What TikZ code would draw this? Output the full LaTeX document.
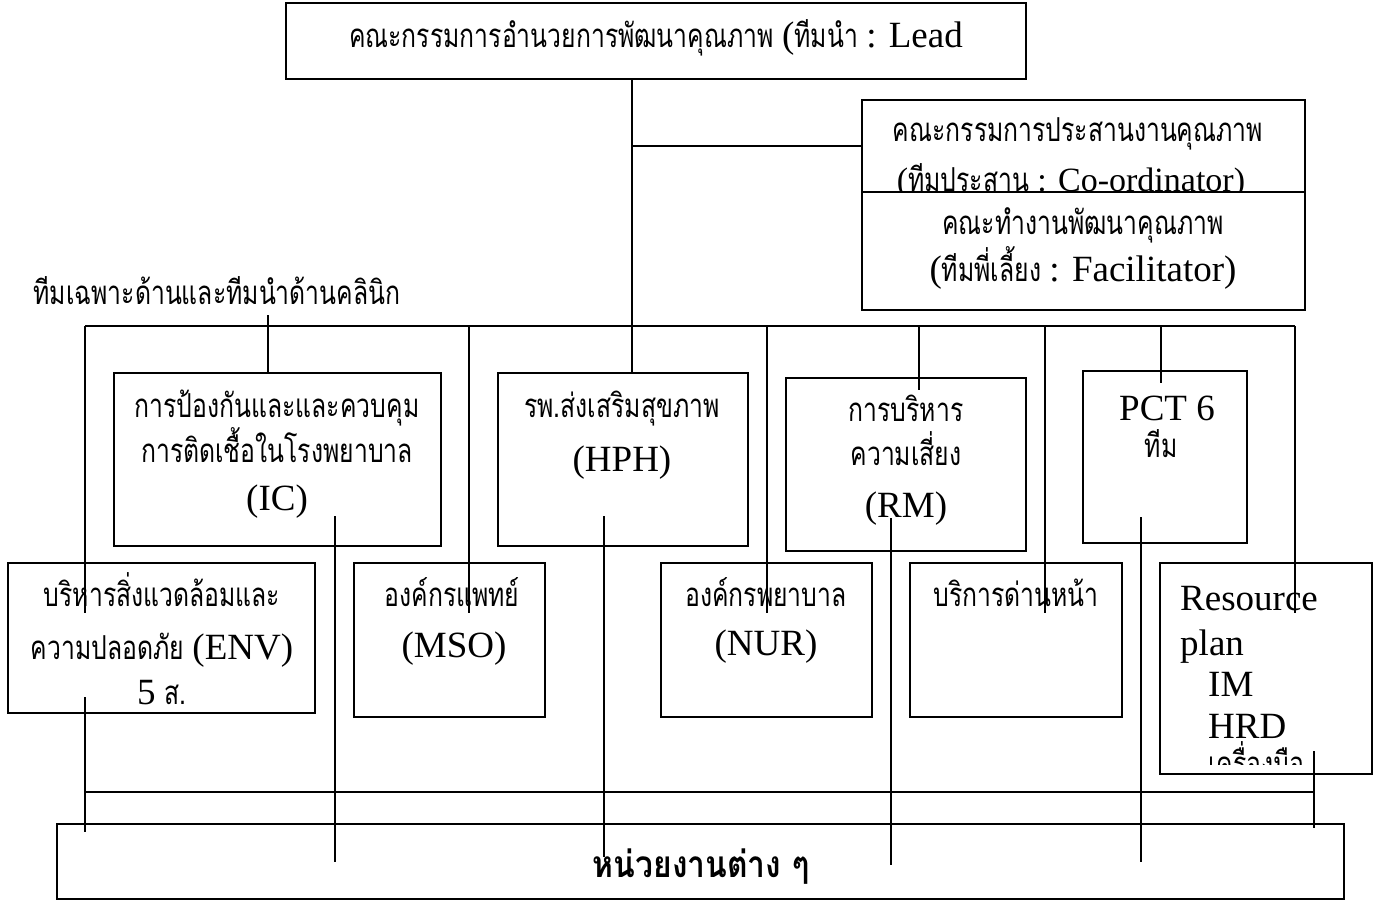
\documentclass[tikz,border=0pt]{standalone}
\usepackage{fontspec}
\setmainfont{Liberation Serif}
\newfontfamily\thf[Script=Thai,FakeStretch=0.75]{Loma}
\newfontfamily\thbf[Script=Thai,FakeStretch=0.86]{Loma}
\newcommand\thai[1]{{\thf\fontsize{33}{34}\selectfont #1}}
\newcommand\latn[1]{{\fontsize{37}{38}\selectfont #1}}
\newcommand\latns[1]{{\fontsize{34}{35}\selectfont #1}}
\usetikzlibrary{fit}
\begin{document}
\begin{tikzpicture}[x=1pt,y=-1pt,
  box/.style={draw, line width=1.8pt, fill=white, inner sep=0pt},
  ln/.style={line width=1.5pt},
  txt/.style={inner sep=0pt, anchor=base},
  txtw/.style={inner sep=0pt, anchor=base west},
]
\useasboundingbox (0,0) rectangle (1373,901);
% ---------- top box
\node[box, fit={(286,3) (1026,79)}] (top) {};
\node[txt] (toptxt) at (656,48) {\thai{คณะกรรมการอำนวยการพัฒนาคุณภาพ }\latn{(}\thai{ทีมนำ }\latn{: Lead}};
% ---------- coordinator / facilitator
\node[box, fit={(862,100) (1305,192)}] (coord) {};
\node[txt] (coordA) at (1078,142) {\thai{คณะกรรมการประสานงานคุณภาพ}};
\node[txt] (coordB) at (1071,192) {\latns{(}\thai{ทีมประสาน }\latns{: Co-ordinator)}};
\node[box, fit={(862,192) (1305,310)}] (facil) {};
\node[txt] (facilA) at (1083,235) {\thai{คณะทำงานพัฒนาคุณภาพ}};
\node[txt] (facilB) at (1083,282) {\latn{(}\thai{ทีมพี่เลี้ยง }\latn{: Facilitator)}};
% ---------- label
\node[txt] (label) at (217,305) {\thai{ทีมเฉพาะด้านและทีมนำด้านคลินิก}};
% ---------- middle row boxes
\node[box, fit={(114,373) (441,546)}] (ic) {};
\node[txt] at (277,417) {\thai{การป้องกันและและควบคุม}};
\node[txt] at (277,462) {\thai{การติดเชื้อในโรงพยาบาล}};
\node[txt] at (277,510) {\latn{(IC)}};
\node[box, fit={(498,373) (748,546)}] (hph) {};
\node[txt] at (622,417) {\thai{รพ.ส่งเสริมสุขภาพ}};
\node[txt] at (622,471) {\latn{(HPH)}};
\node[box, fit={(786,378) (1026,551)}] (rm) {};
\node[txt] at (906,421) {\thai{การบริหาร}};
\node[txt] at (906,465) {\thai{ความเสี่ยง}};
\node[txt] at (906,517) {\latn{(RM)}};
\node[box, fit={(1083,371) (1247,543)}] (pct) {};
\node[txt] at (1167,420) {\latn{PCT 6}};
\node[txt] at (1161,457) {\thai{ทีม}};
% ---------- lower row boxes
\node[box, fit={(8,563) (315,713)}] (env) {};
\node[txt] at (162,606) {\thai{บริหารสิ่งแวดล้อมและ}};
\node[txt] at (162,659) {\thai{ความปลอดภัย }\latn{(ENV)}};
\node[txt] at (162,704) {\latn{5 }\thai{ส.}};
\node[box, fit={(354,563) (545,717)}] (mso) {};
\node[txt] at (452,606) {\thai{องค์กรแพทย์}};
\node[txt] at (454,657) {\latn{(MSO)}};
\node[box, fit={(661,563) (872,717)}] (nur) {};
\node[txt] at (766,606) {\thai{องค์กรพยาบาล}};
\node[txt] at (766,655) {\latn{(NUR)}};
\node[box, fit={(910,563) (1122,717)}] (front) {};
\node[txt] at (1016,606) {\thai{บริการด่านหน้า}};
\node[box, fit={(1160,563) (1372,774)}] (res) {};
\begin{scope}
\clip (1162,565) rectangle (1370,764);
\node[txtw] at (1180,610) {\latn{Resource}};
\node[txtw] at (1180,655) {\latn{plan}};
\node[txtw] at (1208,696) {\latn{IM}};
\node[txtw] at (1208,738) {\latn{HRD}};
\node[txtw] at (1208,775) {\thai{เครื่องมือ}};
\end{scope}
% ---------- bottom box
\node[box, fit={(57,824) (1344,899)}] (bottom) {};
\node[txt] (bottxt) at (701,877) {\thbf\bfseries\fontsize{37}{38}\selectfont หน่วยงานต่าง ๆ};
% ---------- connectors
\coordinate (spine) at (632,0);
\draw[ln] (top.south -| spine) -- (hph.north -| spine);
\draw[ln] (coord.west -| spine) -- (coord.west);
\coordinate (busL) at (85,326);
\coordinate (busR) at (1295,326);
\draw[ln] (busL) -- (busR);
\coordinate (icTop) at (268,315);
\draw[ln] (icTop) -- (ic.north -| icTop);
\coordinate (envA) at (85,613);
\draw[ln] (busL) -- (envA);
\coordinate (msoA) at (469,326); \coordinate (msoB) at (469,613);
\draw[ln] (msoA) -- (msoB);
\coordinate (nurA) at (767,326); \coordinate (nurB) at (767,613);
\draw[ln] (nurA) -- (nurB);
\coordinate (rmA) at (919,326); \coordinate (rmB) at (919,390);
\draw[ln] (rmA) -- (rmB);
\coordinate (frA) at (1045,326); \coordinate (frB) at (1045,613);
\draw[ln] (frA) -- (frB);
\coordinate (pctA) at (1161,326); \coordinate (pctB) at (1161,383);
\draw[ln] (pctA) -- (pctB);
\coordinate (resB) at (1295,613);
\draw[ln] (busR) -- (resB);
% drops to bottom
\coordinate (envC) at (85,697); \coordinate (envD) at (85,832);
\draw[ln] (envC) -- (envD);
\coordinate (icC) at (335,516); \coordinate (icD) at (335,862);
\draw[ln] (icC) -- (icD);
\coordinate (hphC) at (604,516); \coordinate (hphD) at (604,857);
\draw[ln] (hphC) -- (hphD);
\coordinate (rmC) at (891,518); \coordinate (rmD) at (891,865);
\draw[ln] (rmC) -- (rmD);
\coordinate (pctC) at (1141,517); \coordinate (pctD) at (1141,862);
\draw[ln] (pctC) -- (pctD);
\coordinate (resC) at (1314,751); \coordinate (resD) at (1314,828);
\draw[ln] (resC) -- (resD);
\coordinate (lowL) at (85,792); \coordinate (lowR) at (1314,792);
\draw[ln] (lowL) -- (lowR);
\end{tikzpicture}
\end{document}
